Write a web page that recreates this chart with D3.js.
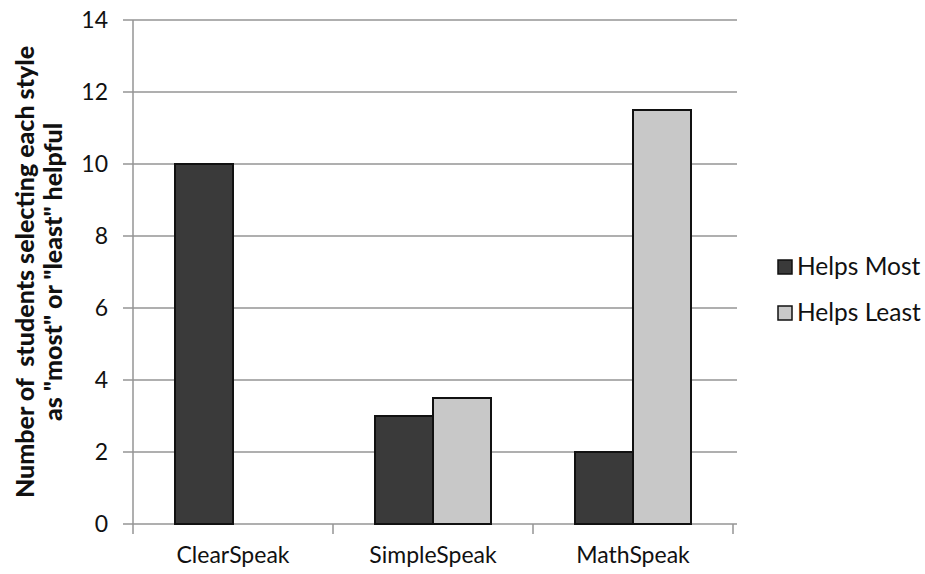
<!DOCTYPE html>
<html>
<head>
<meta charset="utf-8">
<script src="https://cdn.jsdelivr.net/npm/d3@7"></script>
<style>
  body { margin: 0; background: #fff; }
  text { font-family: Lato, "Open Sans", sans-serif; fill: #111; }
</style>
</head>
<body>
<script>
// chart data
const categories = ["ClearSpeak", "SimpleSpeak", "MathSpeak"];
const seriesNames = ["Helps Most", "Helps Least"];
const helpsMost = [10, 3, 2];
const helpsLeast = [0, 3.5, 11.5];
const yTicks = [0, 2, 4, 6, 8, 10, 12, 14];
const colors = ["#3a3a3a", "#c8c8c8"];

const width = 925, height = 574;
const margin = {top: 20, right: 188, bottom: 50, left: 133};

const svg = d3.select("body").append("svg")
    .attr("width", width)
    .attr("height", height);

// scales
const x = d3.scaleBand()
    .domain(categories)
    .range([margin.left, width - margin.right - 4]);
const xInner = d3.scaleBand()
    .domain(seriesNames)
    .range([0, 116]);
const y = d3.scaleLinear()
    .domain([0, 14])
    .range([height - margin.bottom, margin.top]);

// gridlines
svg.append("g")
    .selectAll("line")
    .data(yTicks)
    .enter().append("line")
    .attr("x1", margin.left - 10)
    .attr("x2", width - margin.right)
    .attr("y1", d => y(d))
    .attr("y2", d => y(d))
    .attr("stroke", "#959595")
    .attr("stroke-width", 1.5);

// y axis
const yAxis = d3.axisLeft(y).tickValues(yTicks).tickSize(0).tickPadding(25);
const gy = svg.append("g")
    .attr("transform", "translate(" + margin.left + ",0)")
    .call(yAxis);
gy.select(".domain").attr("stroke", "#959595").attr("stroke-width", 1.5)
    .attr("d", "M0," + y(14) + "V" + (y(0) + 10));
gy.selectAll("text").style("font-size", "23px").attr("fill", "#111");

// x axis
const xAxis = d3.axisBottom(x).tickSize(0).tickPadding(23);
const gx = svg.append("g")
    .attr("transform", "translate(0," + y(0) + ")")
    .call(xAxis);
gx.select(".domain").remove();
gx.selectAll("text").style("font-size", "23px").attr("fill", "#111");

// category separators
svg.append("g")
    .selectAll("line")
    .data(categories.slice(1).concat(["end"]))
    .enter().append("line")
    .attr("x1", (d, i) => x(categories[i]) + x.bandwidth())
    .attr("x2", (d, i) => x(categories[i]) + x.bandwidth())
    .attr("y1", y(0))
    .attr("y2", y(0) + 10)
    .attr("stroke", "#959595")
    .attr("stroke-width", 1.5);

// bars
const rows = categories.map((c, i) => ({cat: c, vals: [helpsMost[i], helpsLeast[i]]}));
const groups = svg.selectAll(".grp")
    .data(rows)
    .enter().append("g")
    .attr("class", "grp")
    .attr("transform", d => "translate(" + (x(d.cat) + x.bandwidth() / 2 - 58) + ",0)");

groups.selectAll("rect")
    .data(d => d.vals.map((v, j) => ({name: seriesNames[j], v: v, j: j})).filter(e => e.v > 0))
    .enter().append("rect")
    .attr("x", d => xInner(d.name))
    .attr("width", xInner.bandwidth())
    .attr("y", d => y(d.v))
    .attr("height", d => y(0) - y(d.v))
    .attr("fill", d => colors[d.j])
    .attr("stroke", "#111")
    .attr("stroke-width", 2);

// y axis title
const title = svg.append("text")
    .attr("transform", "translate(34," + ((y(0) + y(14)) / 2) + ") rotate(-90)")
    .attr("text-anchor", "middle")
    .style("font-size", "25px")
    .style("font-weight", "900")
    .style("white-space", "pre");
title.append("tspan").attr("x", 0).attr("dy", 0).text("Number of  students selecting each style");
title.append("tspan").attr("x", 0).attr("dy", 28).text("as \"most\" or \"least\" helpful");

// legend
const legend = svg.selectAll(".legend")
    .data(seriesNames)
    .enter().append("g")
    .attr("class", "legend")
    .attr("transform", (d, i) => "translate(778," + (260 + 46 * i) + ")");
legend.append("rect")
    .attr("width", 14).attr("height", 14)
    .attr("fill", (d, i) => colors[i])
    .attr("stroke", "#111").attr("stroke-width", 1.5);
legend.append("text")
    .attr("x", 19).attr("y", 15)
    .style("font-size", "24.5px")
    .text(d => d);
</script>
</body>
</html>
